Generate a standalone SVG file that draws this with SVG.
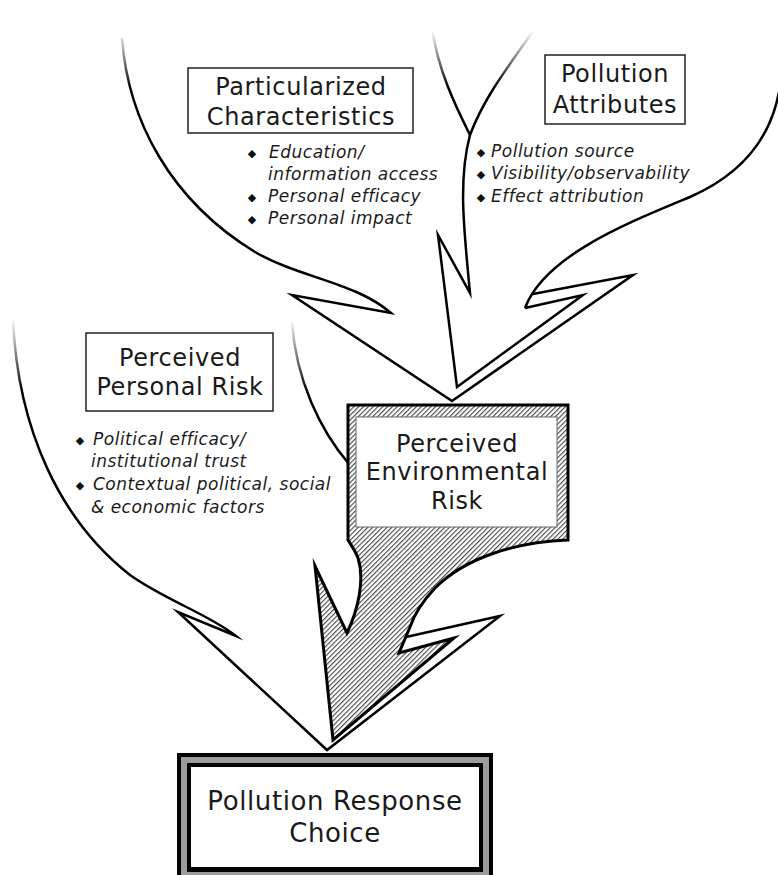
<svg xmlns="http://www.w3.org/2000/svg" width="778" height="875" viewBox="0 0 778 875">
<style>
.ln{fill:none;stroke:#000;stroke-width:2.5;stroke-linejoin:miter;stroke-miterlimit:10}
.box{fill:#fff;stroke:#222;stroke-width:1.5}
.lbl{font-family:"DejaVu Sans",Verdana,sans-serif;font-size:24px;letter-spacing:0.6px;fill:#1a1a1a;text-anchor:middle}
.big{font-size:26px}
.bul{font-family:"DejaVu Sans",Verdana,sans-serif;font-size:17px;font-style:italic;letter-spacing:0.5px;fill:#1a1a1a}
.dot{font-family:"DejaVu Sans",sans-serif;font-size:11px;fill:#111;text-anchor:middle}
</style>
<defs>
<linearGradient id="gTop" gradientUnits="userSpaceOnUse" x1="0" y1="30" x2="0" y2="88">
<stop offset="0" stop-color="#fff" stop-opacity="0"/><stop offset="1" stop-color="#fff" stop-opacity="1"/>
</linearGradient>
<linearGradient id="gMid" gradientUnits="userSpaceOnUse" x1="0" y1="318" x2="0" y2="392">
<stop offset="0" stop-color="#fff" stop-opacity="0"/><stop offset="1" stop-color="#fff" stop-opacity="1"/>
</linearGradient>
<linearGradient id="gBand" x1="0" y1="0" x2="0" y2="1">
<stop offset="0" stop-color="#8a8a8a"/><stop offset="0.5" stop-color="#b0b0b0"/><stop offset="1" stop-color="#8a8a8a"/>
</linearGradient>
<mask id="mTop" maskUnits="userSpaceOnUse" x="0" y="0" width="778" height="875"><rect x="0" y="0" width="778" height="875" fill="url(#gTop)"/></mask>
<mask id="mMid" maskUnits="userSpaceOnUse" x="0" y="0" width="778" height="875"><rect x="0" y="0" width="778" height="875" fill="url(#gMid)"/></mask>
<pattern id="hatch" width="3.4" height="3.4" patternUnits="userSpaceOnUse" patternTransform="rotate(45)">
<rect width="3.4" height="3.4" fill="#fff"/>
<line x1="0.6" y1="0" x2="0.6" y2="3.4" stroke="#333" stroke-width="1"/>
</pattern>
</defs>

<g id="connectors">
  <g id="arrow-personal-risk" mask="url(#mMid)">
    <path class="ln" d="M13,320 C18,430 60,520 130,575 C165,600 210,615 236,636 L178,612 L327,750 L500,616 L406,637"/>
    <path class="ln" d="M292,322 C296,380 320,430 349,464"/>
  </g>
  <g id="arrows-top" mask="url(#mTop)">
    <path class="ln" d="M122,38 C128,120 170,200 255,252 C300,278 355,282 391,313 L292,295 L452,401 L633,275 L533,294"/>
    <path class="ln" d="M525,308 C545,255 630,222 690,197 C740,175 770,140 779,92"/>
    <path class="ln" d="M525,308 L583,295 L457,387 L438,235 L470,293 C464,230 458,180 470,135"/>
    <path class="ln" d="M470,135 C455,105 438,70 432,28"/>
    <path class="ln" d="M470,135 C485,95 510,65 535,28"/>
  </g>
</g>

<g id="particularized-characteristics">
  <rect class="box" x="188" y="68" width="225" height="65"/>
  <text class="lbl" x="301" y="95">Particularized</text>
  <text class="lbl" x="301" y="125">Characteristics</text>
  <text class="dot" x="252" y="157">◆</text>
  <text class="bul" x="269" y="158">Education/</text>
  <text class="bul" x="268" y="180">information access</text>
  <text class="dot" x="252" y="201">◆</text>
  <text class="bul" x="268" y="202">Personal efficacy</text>
  <text class="dot" x="252" y="223">◆</text>
  <text class="bul" x="268" y="224">Personal impact</text>
</g>

<g id="pollution-attributes">
  <rect class="box" x="545" y="55" width="140" height="69"/>
  <text class="lbl" x="615" y="82">Pollution</text>
  <text class="lbl" x="615" y="113">Attributes</text>
  <text class="dot" x="481" y="156">◆</text>
  <text class="bul" x="491" y="157">Pollution source</text>
  <text class="dot" x="481" y="178">◆</text>
  <text class="bul" x="491" y="179">Visibility/observability</text>
  <text class="dot" x="481" y="201">◆</text>
  <text class="bul" x="491" y="202">Effect attribution</text>
</g>

<g id="perceived-personal-risk">
  <rect class="box" x="86" y="333" width="187" height="78"/>
  <text class="lbl" x="180" y="366">Perceived</text>
  <text class="lbl" x="180" y="395">Personal Risk</text>
  <text class="dot" x="80" y="444">◆</text>
  <text class="bul" x="93" y="445">Political efficacy/</text>
  <text class="bul" x="91" y="467">institutional trust</text>
  <text class="dot" x="80" y="489">◆</text>
  <text class="bul" x="93" y="490">Contextual political, social</text>
  <text class="bul" x="91" y="513">&amp; economic factors</text>
</g>

<g id="perceived-environmental-risk">
  <path d="M348,405 H568 V540 C515,542 465,558 435,588 C422,602 414,615 410,627 L399,653 L454,638 L333,740 L315,566 L347,633 C358,610 365,580 358,558 C355,550 351,545 348,540 Z" fill="url(#hatch)" stroke="#000" stroke-width="3" stroke-linejoin="miter" stroke-miterlimit="10"/>
  <rect x="356" y="417" width="201" height="110" fill="#fff" stroke="#666" stroke-width="1"/>
  <text class="lbl" x="457" y="452">Perceived</text>
  <text class="lbl" x="457" y="480">Environmental</text>
  <text class="lbl" x="457" y="509">Risk</text>
</g>

<g id="pollution-response-choice">
  <rect x="177" y="753" width="316" height="130" fill="#000"/>
  <rect x="181" y="757" width="308" height="122" fill="#9c9c9c"/>
  <rect x="187" y="763" width="296" height="109" fill="#000"/>
  <rect x="191" y="767" width="288" height="100" fill="#fff"/>
  <text class="lbl big" x="335" y="810">Pollution Response</text>
  <text class="lbl big" x="335" y="842">Choice</text>
</g>
</svg>
